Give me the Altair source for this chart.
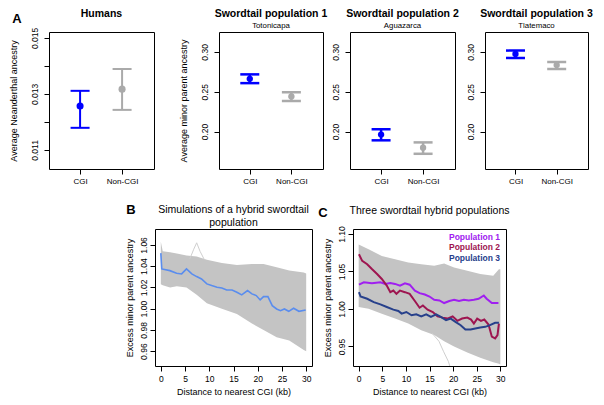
import altair as alt
import pandas as pd

FONT = "Liberation Sans"

# ---------------- Panel A data ----------------
groups = ["CGI", "Non-CGI"]
group_pos = [1, 2]
group_colors = ["#0000FF", "#AAAAAA"]

humans_mean = [0.01257, 0.01317]
humans_lo = [0.01179, 0.01243]
humans_hi = [0.01311, 0.01389]

sw1_mean = [0.2662, 0.2441]
sw1_lo = [0.2608, 0.2384]
sw1_hi = [0.2718, 0.2494]

sw2_mean = [0.1962, 0.1797]
sw2_lo = [0.1890, 0.1721]
sw2_hi = [0.2029, 0.1864]

sw3_mean = [0.2975, 0.2835]
sw3_lo = [0.2924, 0.2785]
sw3_hi = [0.3017, 0.2873]

humans_ticks = [0.011, 0.012, 0.013, 0.014, 0.015]
sw_ticks = [0.20, 0.25, 0.30]

# ---------------- Panel B data ----------------
b_band_kb = [0, 0.4, 1.9, 3.3, 5.3, 7.4, 9.5, 12.6, 15.7, 18.8, 21.2, 23.9, 26.5, 29.5, 30]
b_band_upper = [1.063, 1.054, 1.053, 1.052, 1.050, 1.049, 1.046, 1.043, 1.041, 1.042, 1.042, 1.039, 1.036, 1.034, 1.033]
b_band_lower = [1.023, 1.022, 1.020, 1.021, 1.020, 1.013, 1.005, 1.000, 0.995, 0.986, 0.980, 0.973, 0.970, 0.961, 0.960]
b_outlier_kb = [6.0, 6.8, 7.4, 8.1, 9.0]
b_outlier_val = [1.047, 1.056, 1.062, 1.054, 1.046]

b_mean_kb = [0, 0.2, 1.87, 3.25, 4.3, 5.3, 6.4, 7.4, 8.4, 9.5, 10.5, 11.6, 12.6, 13.6, 14.7,
             15.7, 16.7, 17.9, 18.8, 19.7, 20.5, 21.2, 22.1, 23.0, 23.9, 24.7, 25.5, 26.4,
             27.4, 28.5, 29.9]
b_mean_val = [1.0523, 1.0374, 1.0358, 1.0334, 1.0327, 1.0374, 1.0327, 1.0302, 1.0280, 1.0233,
              1.0217, 1.0202, 1.0195, 1.0176, 1.0176, 1.0155, 1.0130, 1.0170, 1.0139, 1.0123,
              1.0082, 1.0113, 1.0113, 1.0028, 0.9997, 0.9981, 0.9997, 0.9975, 1.0004, 0.9975,
              0.9988]

# ---------------- Panel C data ----------------
c_band_kb = [0, 2.1, 4.9, 7.7, 10.5, 13.25, 16, 18.1, 20.2, 23, 25.75, 28.5, 29.7, 30]
c_band_upper = [1.086, 1.0795, 1.0707, 1.0663, 1.062, 1.0597, 1.0575, 1.0605, 1.0554, 1.051,
                1.0466, 1.0443, 1.053, 1.053]
c_band_lower = [1.0026, 1.0004, 0.9938, 0.9872, 0.9806, 0.9718, 0.9652, 0.957, 0.950, 0.942,
                0.935, 0.929, 0.927, 0.926]
c_outlier_kb = [15.5, 17.0, 18.0, 19.0, 19.6]
c_outlier_val = [0.968, 0.957, 0.943, 0.930, 0.918]

pop_names = ["Population 1", "Population 2", "Population 3"]
pop_colors = ["#A020F0", "#9E1550", "#27408B"]

pop1_kb = [0.06, 1.1, 2.8, 4.6, 5.6, 6.7, 7.7, 8.75, 9.8, 10.8, 11.9, 12.9, 14.0, 15.0, 16.0,
           17.1, 18.1, 19.2, 20.2, 21.25, 22.3, 23.3, 24.4, 25.4, 26.5, 27.1, 28.2, 29.6]
pop1_val = [1.0324, 1.0356, 1.0343, 1.0356, 1.0334, 1.0347, 1.0334, 1.0311, 1.0343, 1.0324,
            1.0245, 1.0211, 1.0193, 1.0166, 1.0123, 1.0114, 1.0079, 1.0106, 1.0123, 1.0106,
            1.0123, 1.0114, 1.0123, 1.0136, 1.0180, 1.0136, 1.0079, 1.0079]

pop2_kb = [0.06, 0.75, 1.8, 2.8, 3.9, 4.9, 5.95, 6.7, 7.35, 8.0, 8.75, 9.8, 10.8, 11.9, 12.9,
           13.6, 14.6, 15.7, 16.7, 17.8, 18.8, 19.9, 20.9, 21.9, 23.0, 23.8, 24.4, 25.1, 25.9,
           26.6, 27.5, 28.2, 28.9, 29.4, 29.7]
pop2_val = [1.0729, 1.0641, 1.0597, 1.0532, 1.0466, 1.0400, 1.0311, 1.0224, 1.0245, 1.0202,
            1.0245, 1.0224, 1.0202, 1.0106, 1.0017, 1.0047, 0.9991, 0.9960, 0.9902, 0.9885,
            0.9872, 0.9902, 0.9842, 0.9872, 0.9885, 0.9859, 0.9806, 0.9872, 0.9842, 0.9859,
            0.9793, 0.9631, 0.9608, 0.9652, 0.9806]

pop3_kb = [0.06, 0.4, 1.8, 3.2, 4.6, 5.95, 7.35, 8.4, 9.1, 10.1, 11.2, 12.2, 13.25, 14.3, 15.3,
           16.4, 17.4, 18.5, 19.5, 20.5, 21.6, 22.6, 23.7, 24.7, 25.75, 26.8, 27.8, 28.9, 29.7]
pop3_val = [1.0224, 1.0166, 1.0136, 1.0092, 1.0061, 1.0026, 0.9991, 0.9974, 0.9938, 0.9960,
            0.9916, 0.9929, 0.9902, 0.9929, 0.9894, 0.9929, 0.9894, 0.9850, 0.9872, 0.9829,
            0.9784, 0.9727, 0.9727, 0.9740, 0.9753, 0.9762, 0.9784, 0.9815, 0.9815]

kb_ticks = [0, 5, 10, 15, 20, 25, 30]
b_yticks = [0.96, 0.98, 1.00, 1.02, 1.04, 1.06]
c_yticks = [0.95, 1.00, 1.05, 1.10]


def spacer(w, t="", dx=0, dy=0):
    """Empty cell of the layout; optionally carries a panel letter."""
    return alt.Chart(pd.DataFrame({"t": [t]})).mark_text(
        font=FONT, fontSize=13, fontWeight="bold", align="center", baseline="middle", color="black"
    ).encode(text="t:N", x=alt.value(dx), y=alt.value(dy)).properties(
        width=w, height=137, view=alt.ViewBackground(strokeOpacity=0))


def dot_panel(mean, lo, hi, ydomain, yticks, yfmt_expr, title, subtitle, ytitle, width,
              psize, cap, lw, title_offset=2):
    df = pd.DataFrame({"pos": group_pos, "group": groups, "mean": mean, "lo": lo, "hi": hi})
    xenc = alt.X("pos:Q", scale=alt.Scale(domain=[0.26, 2.76], nice=False, zero=False),
                 axis=alt.Axis(values=group_pos, labelExpr="datum.value == 1 ? 'CGI' : 'Non-CGI'",
                               title=None, labelPadding=3, labelFontSize=8, labelColor="black"))
    yscale = alt.Scale(domain=ydomain, nice=False, zero=False)
    ax_kwargs = dict(values=yticks, labelExpr=yfmt_expr, labelAngle=270, labelAlign="center",
                     labelBaseline="bottom", labelPadding=5, titlePadding=12)
    if ytitle:
        yaxis = alt.Axis(title=ytitle, **ax_kwargs)
    else:
        yaxis = alt.Axis(title=None, **ax_kwargs)

    def Y(f):
        return alt.Y(f"{f}:Q", scale=yscale, axis=yaxis)

    color = alt.Color("group:N", scale=alt.Scale(domain=groups, range=group_colors), legend=None)
    base = alt.Chart(df).encode(x=xenc, color=color)
    bar = base.mark_rule(strokeWidth=lw).encode(y=Y("lo"), y2="hi:Q")
    cap_lo = base.mark_tick(orient="horizontal", size=cap, thickness=lw, opacity=1).encode(y=Y("lo"))
    cap_hi = base.mark_tick(orient="horizontal", size=cap, thickness=lw, opacity=1).encode(y=Y("hi"))
    pt = base.mark_circle(size=psize, opacity=1).encode(y=Y("mean"))
    tkw = dict(text=title, font=FONT, fontSize=10.5, fontWeight="bold", anchor="middle",
               frame="group", offset=title_offset, color="black",
               subtitle=subtitle, subtitleFont=FONT, subtitleFontSize=7.8,
               subtitlePadding=3, subtitleColor="black")
    return alt.layer(bar, cap_lo, cap_hi, pt).properties(width=width, height=137,
                                                          title=alt.TitleParams(**tkw))


humans = dot_panel(humans_mean, humans_lo, humans_hi, [0.01032, 0.01521], humans_ticks,
                   "(round(datum.value*1000) % 2 == 1) ? format(datum.value, '.3f') : ''",
                   "Humans", " ", "Average Neanderthal ancestry", 105, 50, 19, 2, -3)
sw1 = dot_panel(sw1_mean, sw1_lo, sw1_hi, [0.153, 0.325], sw_ticks, "format(datum.value, '.2f')",
                "Swordtail population 1", "Totonicapa", "Average minor parent ancestry", 104,
                40, 19, 2.5)
sw2 = dot_panel(sw2_mean, sw2_lo, sw2_hi, [0.153, 0.325], sw_ticks, "format(datum.value, '.2f')",
                "Swordtail population 2", "Aguazarca", None, 105, 40, 19, 2.5)
sw3 = dot_panel(sw3_mean, sw3_lo, sw3_hi, [0.153, 0.325], sw_ticks, "format(datum.value, '.2f')",
                "Swordtail population 3", "Tlatemaco", None, 103, 40, 19, 2.5)


def kb_x():
    return alt.X("kb:Q", scale=alt.Scale(domain=[-1.2, 31.2], nice=False, zero=False),
                 axis=alt.Axis(values=kb_ticks, title="Distance to nearest CGI (kb)",
                               labelPadding=3, titlePadding=5))


def val_y(field, domain, ticks):
    return alt.Y(f"{field}:Q", scale=alt.Scale(domain=domain, nice=False, zero=False),
                 axis=alt.Axis(values=ticks, format=".2f", title="Excess minor parent ancestry",
                               labelAngle=270, labelAlign="center", labelBaseline="bottom",
                               labelPadding=2, titlePadding=5))


# ---- Panel B ----
b_dom = [0.946, 1.075]
b_band = alt.Chart(pd.DataFrame({"kb": b_band_kb, "lower": b_band_lower, "upper": b_band_upper})) \
    .mark_area(color="#C4C4C4", opacity=1, clip=True) \
    .encode(x=kb_x(), y=val_y("lower", b_dom, b_yticks), y2="upper:Q")
b_out = alt.Chart(pd.DataFrame({"kb": b_outlier_kb, "val": b_outlier_val})) \
    .mark_line(color="#CFCFCF", strokeWidth=1, clip=True) \
    .encode(x=kb_x(), y=val_y("val", b_dom, b_yticks))
b_line = alt.Chart(pd.DataFrame({"kb": b_mean_kb, "val": b_mean_val})) \
    .mark_line(color="#5A8DEE", strokeWidth=1.6, clip=True) \
    .encode(x=kb_x(), y=val_y("val", b_dom, b_yticks))
panel_b = alt.layer(b_band, b_out, b_line).properties(
    width=157, height=137,
    title=alt.TitleParams(text=["Simulations of a hybrid swordtail", "population"], font=FONT,
                          fontSize=10.5, fontWeight="normal", lineHeight=13.4, anchor="middle",
                          frame="group", offset=0, color="black"))

# ---- Panel C ----
c_dom = [0.924, 1.1066]
c_band = alt.Chart(pd.DataFrame({"kb": c_band_kb, "lower": c_band_lower, "upper": c_band_upper})) \
    .mark_area(color="#C4C4C4", opacity=1, clip=True) \
    .encode(x=kb_x(), y=val_y("lower", c_dom, c_yticks), y2="upper:Q")
c_out = alt.Chart(pd.DataFrame({"kb": c_outlier_kb, "val": c_outlier_val})) \
    .mark_line(color="#CFCFCF", strokeWidth=1, clip=True) \
    .encode(x=kb_x(), y=val_y("val", c_dom, c_yticks))

pop_rows = []
for name, ks, vs in zip(pop_names, [pop1_kb, pop2_kb, pop3_kb], [pop1_val, pop2_val, pop3_val]):
    for k, v in zip(ks, vs):
        pop_rows.append({"pop": name, "kb": k, "val": v})
pop_df = pd.DataFrame(pop_rows)

c_lines = alt.Chart(pop_df).mark_line(strokeWidth=2, clip=True).encode(
    x=kb_x(), y=val_y("val", c_dom, c_yticks),
    color=alt.Color("pop:N", scale=alt.Scale(domain=pop_names, range=pop_colors), legend=None),
)

# in-plot key (coloured bold labels, top-right corner)
key_layers = []
for i, (name, col) in enumerate(zip(pop_names, pop_colors)):
    key_layers.append(
        alt.Chart(pd.DataFrame({"t": [name]})).mark_text(
            font=FONT, fontSize=8.5, fontWeight="bold", align="right", baseline="middle", color=col
        ).encode(text="t:N", x=alt.value(147), y=alt.value(8 + 10.3 * i))
    )

panel_c = alt.layer(c_band, c_out, c_lines, *key_layers).properties(
    width=153, height=137,
    title=alt.TitleParams(text="Three swordtail hybrid populations", font=FONT, fontSize=10.5,
                          fontWeight="normal", anchor="middle", frame="group", offset=9,
                          color="black"))

LEAD = 40
row1 = alt.hconcat(spacer(LEAD, "A", LEAD - 32, -13), humans, spacer(65), sw1, spacer(27), sw2,
                   spacer(30), sw3,
                   spacing=0, bounds="flush").resolve_scale(color="independent")
row2 = alt.hconcat(spacer(LEAD + 106, "B", LEAD + 106 - 24, -19), panel_b,
                   spacer(41, "C", 41 - 30, -16.5), panel_c,
                   spacing=0, bounds="flush").resolve_scale(color="independent")

chart = alt.vconcat(row1, row2, spacing=18).resolve_scale(color="independent").properties(
    padding={"left": 0, "top": 0, "right": 2, "bottom": 2}
).configure(font=FONT).configure_view(stroke="black", strokeWidth=1).configure_axis(
    grid=False, domain=False, labelFont=FONT, labelFontSize=8.5, labelColor="black",
    tickColor="black", tickSize=5, tickWidth=1, titleFont=FONT, titleFontSize=9,
    titleFontWeight="normal", titleColor="black"
)

chart.save("out.html", embed_options={"renderer": "svg", "actions": False})
